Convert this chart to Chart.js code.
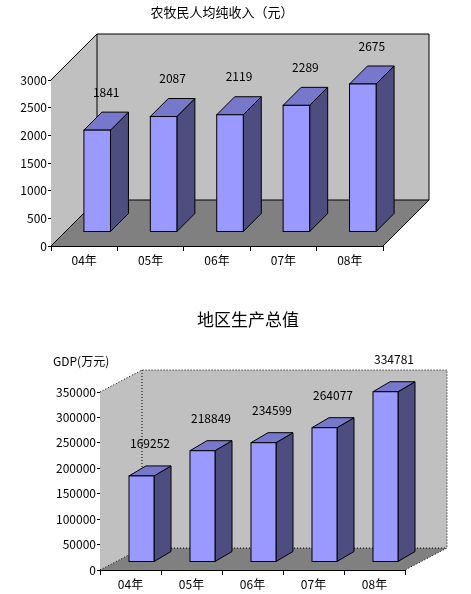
<!DOCTYPE html>
<html>
<head>
<meta charset="utf-8">
<script src="https://cdn.jsdelivr.net/npm/chart.js@4"></script>
<style>
  body { margin: 0; background: #fff; }
  .box { position: absolute; left: 0; width: 471px; }
</style>
</head>
<body>
<div class="box" style="top:0;height:280px"><canvas id="c1" width="471" height="280"></canvas></div>
<div class="box" style="top:300px;height:294px"><canvas id="c2" width="471" height="294"></canvas></div>
<script>
// данные
const years = ['04年', '05年', '06年', '07年', '08年'];
const income = [1841, 2087, 2119, 2289, 2675];
const gdp = [169252, 218849, 234599, 264077, 334781];
const incomeTicks = [0, 500, 1000, 1500, 2000, 2500, 3000];
const gdpTicks = [0, 50000, 100000, 150000, 200000, 250000, 300000, 350000];

const FONT = '"Noto Sans CJK SC", "DejaVu Sans", sans-serif';

// плагин псевдо-3D
const box3d = {
  id: 'box3d',
  beforeDatasetsDraw(chart, args, o) {
    const a = chart.chartArea, ctx = chart.ctx;
    const dx = o.dx, dy = o.dy;
    ctx.save();
    ctx.lineWidth = 1;
    ctx.strokeStyle = '#000';
    // левая стена
    ctx.fillStyle = '#c0c0c0';
    ctx.beginPath();
    ctx.moveTo(a.left, a.bottom); ctx.lineTo(a.left, a.top);
    ctx.lineTo(a.left + dx, a.top + dy); ctx.lineTo(a.left + dx, a.bottom + dy);
    ctx.closePath(); ctx.fill();
    // задняя стена
    ctx.fillRect(a.left + dx, a.top + dy, a.right - a.left, a.bottom - a.top);
    // пол
    ctx.fillStyle = '#808080';
    ctx.beginPath();
    ctx.moveTo(a.left, a.bottom); ctx.lineTo(a.right, a.bottom);
    ctx.lineTo(a.right + dx, a.bottom + dy); ctx.lineTo(a.left + dx, a.bottom + dy);
    ctx.closePath(); ctx.fill();
    // линии
    if (o.dotted) ctx.setLineDash([1, 2]);
    ctx.beginPath();
    ctx.moveTo(a.left, a.top); ctx.lineTo(a.left + dx, a.top + dy);
    ctx.lineTo(a.right + dx, a.top + dy); ctx.lineTo(a.right + dx, a.bottom + dy);
    ctx.lineTo(a.right, a.bottom);
    ctx.moveTo(a.left + dx, a.top + dy); ctx.lineTo(a.left + dx, a.bottom + dy);
    ctx.lineTo(a.right + dx, a.bottom + dy);
    ctx.moveTo(a.left, a.bottom); ctx.lineTo(a.left + dx, a.bottom + dy);
    ctx.stroke();
    ctx.setLineDash([]);
    ctx.restore();
  },
  afterDatasetsDraw(chart, args, o) {
    const ctx = chart.ctx;
    const meta = chart.getDatasetMeta(0);
    const vals = chart.data.datasets[0].data;
    const sx = o.shiftX, sy = o.shiftY, bx = o.bdx, by = o.bdy;
    ctx.save();
    ctx.lineWidth = 1;
    ctx.strokeStyle = '#000';
    meta.data.forEach((bar, i) => {
      const w = bar.width;
      const l = bar.x - w / 2 + sx, r = bar.x + w / 2 + sx;
      const t = bar.y + sy, b = bar.base + sy;
      // бок
      ctx.fillStyle = '#4d4d80';
      ctx.beginPath();
      ctx.moveTo(r, b); ctx.lineTo(r, t); ctx.lineTo(r + bx, t + by); ctx.lineTo(r + bx, b + by);
      ctx.closePath(); ctx.fill(); ctx.stroke();
      // верх
      ctx.fillStyle = '#7777cc';
      ctx.beginPath();
      ctx.moveTo(l, t); ctx.lineTo(r, t); ctx.lineTo(r + bx, t + by); ctx.lineTo(l + bx, t + by);
      ctx.closePath(); ctx.fill(); ctx.stroke();
      // фасад
      ctx.fillStyle = '#9999ff';
      ctx.fillRect(l, t, w, b - t);
      ctx.strokeRect(l, t, w, b - t);
      // подпись
      ctx.fillStyle = '#000';
      ctx.font = o.labelFont;
      ctx.textAlign = 'center';
      ctx.textBaseline = 'bottom';
      ctx.fillText(String(vals[i]), (l + r) / 2 + bx / 2, t + by - o.labelGap);
    });
    ctx.restore();
  },
  afterDraw(chart, args, o) {
    const ctx = chart.ctx;
    ctx.save();
    ctx.fillStyle = '#000';
    (o.texts || []).forEach(tx => {
      ctx.font = tx.font;
      ctx.textAlign = tx.align;
      ctx.textBaseline = 'middle';
      ctx.fillText(tx.text, tx.x, tx.y);
    });
    ctx.restore();
  }
};

function makeChart(id, values, ticks, cfg) {
  new Chart(document.getElementById(id), {
    type: 'bar',
    data: {
      labels: years,
      datasets: [{ data: values, backgroundColor: 'rgba(0,0,0,0)', borderWidth: 0,
        categoryPercentage: 1, barPercentage: cfg.barPct }]
    },
    options: {
      responsive: false,
      animation: false,
      layout: { padding: { left: 0, right: cfg.right, top: cfg.top, bottom: 0 } },
      plugins: {
        legend: { display: false },
        tooltip: { enabled: false },
        title: { display: false },
        box3d: cfg.box
      },
      scales: {
        x: {
          afterFit(s) { s.height = cfg.xh; },
          border: { color: '#000' },
          grid: { drawOnChartArea: false, color: '#000', tickLength: 5, offset: true },
          ticks: { color: '#000', font: { family: FONT, size: 12 }, padding: 2 }
        },
        y: {
          min: 0, max: ticks[ticks.length - 1],
          afterFit(s) { s.width = cfg.yw; },
          afterBuildTicks(s) { s.ticks = ticks.map(v => ({ value: v })); },
          border: { color: '#000' },
          grid: { drawOnChartArea: false, color: '#000', tickLength: 3 },
          ticks: { color: '#000', font: { family: FONT, size: 12 }, padding: 1,
            callback: v => String(v) }
        }
      }
    },
    plugins: [box3d]
  });
}

makeChart('c1', income, incomeTicks, {
  barPct: 0.4, right: 88, top: 80, xh: 34, yw: 51,
  box: {
    dx: 46, dy: -46, shiftX: 13, shiftY: -14, bdx: 18, bdy: -18,
    labelGap: 14, labelFont: '12px ' + FONT,
    texts: [{ text: '农牧民人均纯收入（元）', x: 222, y: 12, font: '13px ' + FONT, align: 'center' }]
  }
});

makeChart('c2', gdp, gdpTicks, {
  barPct: 0.41, right: 66, top: 92, xh: 24, yw: 100,
  box: {
    dx: 42, dy: -22, shiftX: 11, shiftY: -8, bdx: 17, bdy: -10,
    labelGap: 16, labelFont: '12px ' + FONT, dotted: true,
    texts: [
      { text: '地区生产总值', x: 248, y: 20, font: '17px ' + FONT, align: 'center' },
      { text: 'GDP(万元)', x: 53, y: 61, font: '12px ' + FONT, align: 'left' }
    ]
  }
});
</script>
</body>
</html>
